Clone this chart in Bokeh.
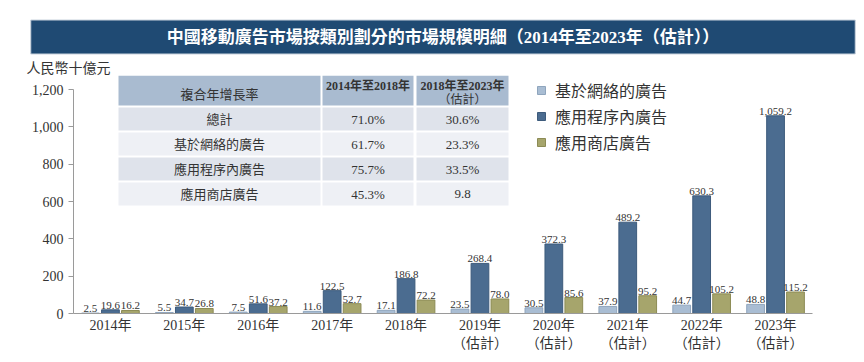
from bokeh.plotting import figure
from bokeh.models import (ColumnDataSource, FactorRange, Range1d, BoxAnnotation, Label, Title,
                          Legend, LegendItem, FixedTicker, NumeralTickFormatter, CategoricalAxis)
from bokeh.transform import dodge
from bokeh.core.properties import value
from bokeh.embed import file_html
from bokeh.resources import INLINE

# ---------------- data ----------------
years = ["2014年", "2015年", "2016年", "2017年", "2018年",
         "2019年", "2020年", "2021年", "2022年", "2023年"]
estimate_flags = ["", "", "", "", "", "（估計）", "（估計）", "（估計）", "（估計）", "（估計）"]
web_ads = [2.5, 5.5, 7.5, 11.6, 17.1, 23.5, 30.5, 37.9, 44.7, 48.8]
in_app_ads = [19.6, 34.7, 51.6, 122.5, 186.8, 268.4, 372.3, 489.2, 630.3, 1059.2]
app_store_ads = [16.2, 26.8, 37.2, 52.7, 72.2, 78.0, 85.6, 95.2, 105.2, 115.2]
series_names = ["基於網絡的廣告", "應用程序內廣告", "應用商店廣告"]
y_ticks = [0, 200, 400, 600, 800, 1000, 1200]
unit_label = "人民幣十億元"
title_text = "中國移動廣告市場按類別劃分的市場規模明細（2014年至2023年（估計））"

table_header = ["複合年增長率", "2014年至2018年", "2018年至2023年", "（估計）"]
table_rows = ["總計", "基於網絡的廣告", "應用程序內廣告", "應用商店廣告"]
cagr_2014_2018 = ["71.0%", "61.7%", "75.7%", "45.3%"]
cagr_2018_2023 = ["30.6%", "23.3%", "33.5%", "9.8"]

# ---------------- style ----------------
SERIF = "'Liberation Serif', 'Noto Sans CJK TC'"
TXT = "#333333"
C_WEB, C_APP, C_STORE = "#a9bdd3", "#4b6c90", "#a6a56c"
L_WEB, L_APP, L_STORE = "#8fa5bd", "#3d5b7c", "#8c8b55"

fmt = lambda v: f"{v:,.1f}"
src = ColumnDataSource(dict(
    year=years,
    web=web_ads, app=in_app_ads, store=app_store_ads,
    web_l=[fmt(v) for v in web_ads],
    app_l=[fmt(v) for v in in_app_ads],
    store_l=[fmt(v) for v in app_store_ads],
))

FRAME_TOP = 75
p = figure(width=864, height=362, x_range=FactorRange(factors=years, range_padding=0),
           y_range=Range1d(0, 1275), output_backend="svg", toolbar_location=None,
           min_border_left=73, min_border_right=52, min_border_top=FRAME_TOP,
           min_border_bottom=49)
p.outline_line_color = None
p.xgrid.visible = False
p.ygrid.visible = False

# titles in the "above" panel (first added = nearest the frame)
p.add_layout(Title(text=unit_label, align="left", offset=-47, standoff=0,
                   text_font=SERIF, text_font_size="14px", text_font_style="normal",
                   text_color=TXT), "above")
# padding order: (left, right, top, bottom)
p.add_layout(Title(text=title_text, align="center", offset=-10, standoff=9,
                   text_font=SERIF, text_font_size="17px", text_font_style="bold",
                   text_color="white", background_fill_color="#1f4a73",
                   border_line_color="#c9d2dd", padding=(136, 136, 8, 7)), "above")

# y axis
yax = p.yaxis[0]
yax.ticker = FixedTicker(ticks=y_ticks)
yax.formatter = NumeralTickFormatter(format="0,0")
yax.bounds = (0, 1200)
yax.axis_line_color = "#9a9a9a"
yax.major_tick_line_color = "#9a9a9a"
yax.major_tick_out = 5
yax.major_tick_in = 0
yax.minor_tick_line_color = None
yax.major_label_text_font = SERIF
yax.major_label_text_font_size = "14px"
yax.major_label_text_color = TXT
yax.major_label_standoff = 5

# x axis (years)
xax = p.xaxis[0]
xax.axis_line_color = "#9a9a9a"
xax.major_tick_line_color = None
xax.major_tick_out = 0
xax.major_tick_in = 0
xax.minor_tick_line_color = None
xax.major_label_text_font = SERIF
xax.major_label_text_font_size = "14px"
xax.major_label_text_color = TXT
xax.major_label_standoff = 4

# second row of category labels: "（估計）" (unique factor names, invisible suffixes)
est_factors = []
for i, f in enumerate(estimate_flags):
    est_factors.append((f + "\u200b" * i) if f else " " * (i + 1))
p.extra_x_ranges = {"est": FactorRange(factors=est_factors, range_padding=0)}
xax2 = CategoricalAxis(x_range_name="est", axis_line_color=None, major_tick_line_color=None,
                       major_tick_out=0, major_tick_in=0, minor_tick_line_color=None,
                       major_label_text_font=SERIF, major_label_text_font_size="14px",
                       major_label_text_color=TXT, major_label_standoff=0)
p.add_layout(xax2, "below")

# bars
OFF, W = 0.27, 0.24
r1 = p.vbar(x=dodge("year", -OFF, range=p.x_range), top="web", width=W, source=src,
            fill_color=C_WEB, line_color=L_WEB, line_width=1)
r2 = p.vbar(x=dodge("year", 0, range=p.x_range), top="app", width=W, source=src,
            fill_color=C_APP, line_color=L_APP, line_width=1)
r3 = p.vbar(x=dodge("year", OFF, range=p.x_range), top="store", width=W, source=src,
            fill_color=C_STORE, line_color=L_STORE, line_width=1)
for off, col in [(-OFF, "web"), (0, "app"), (OFF, "store")]:
    p.text(x=dodge("year", off, range=p.x_range), y=col, text=col + "_l", source=src,
           text_align="center", text_baseline="bottom", y_offset=-1,
           text_font=value(SERIF), text_font_size="11px", text_color=TXT)

# legend
legend = Legend(items=[LegendItem(label=series_names[0], renderers=[r1]),
                       LegendItem(label=series_names[1], renderers=[r2]),
                       LegendItem(label=series_names[2], renderers=[r3])],
                location=(463, 159), glyph_width=10, glyph_height=10,
                label_height=19, spacing=2, label_standoff=9, padding=0, margin=0,
                border_line_color=None, background_fill_alpha=0,
                label_text_font=SERIF, label_text_font_size="16px",
                label_text_color=TXT)
p.add_layout(legend, "center")

# --------- CAGR table (screen units, relative to frame bottom-left) ---------
FL, FB = 73, 313  # canvas coords of frame left / bottom
sx = lambda X: X - FL
sy = lambda Y: FB - Y

def box(x0, x1, y0, y1, fill):
    p.add_layout(BoxAnnotation(left=sx(x0), right=sx(x1), top=sy(y0), bottom=sy(y1),
                               left_units="screen", right_units="screen",
                               top_units="screen", bottom_units="screen",
                               fill_color=fill, fill_alpha=1, line_color=None,
                               level="annotation"))

def lab(X, Y, text, size="13px", style="normal"):
    p.add_layout(Label(x=sx(X), y=sy(Y), x_units="screen", y_units="screen", text=text,
                       text_font=SERIF, text_font_size=size, text_color=TXT,
                       text_font_style=style, text_align="center", text_baseline="middle",
                       level="overlay"))

cols = [(118, 320), (322, 413), (416, 508)]
rows = [(FRAME_TOP, 105), (107, 130), (132, 155), (157, 180), (182, 205)]
row_fill = ["#a9bbd0", "#dfe3eb", "#eef0f5", "#dfe3eb", "#eef0f5"]
for (y0, y1), fill in zip(rows, row_fill):
    for (x0, x1) in cols:
        box(x0, x1, y0, y1, fill)
cx = [(a + b) / 2 for a, b in cols]
lab(cx[0], 94, table_header[0])
lab(cx[1], 85, table_header[1], size="12px", style="bold")
lab(cx[2], 85, table_header[2], size="12px", style="bold")
lab(cx[2], 99, table_header[3], size="12px")
for i, (y0, y1) in enumerate(rows[1:]):
    cy = (y0 + y1) / 2
    lab(cx[0], cy, table_rows[i])
    lab(cx[1], cy, cagr_2014_2018[i])
    lab(cx[2], cy, cagr_2018_2023[i])

open("out.html", "w").write(file_html(p, INLINE))
